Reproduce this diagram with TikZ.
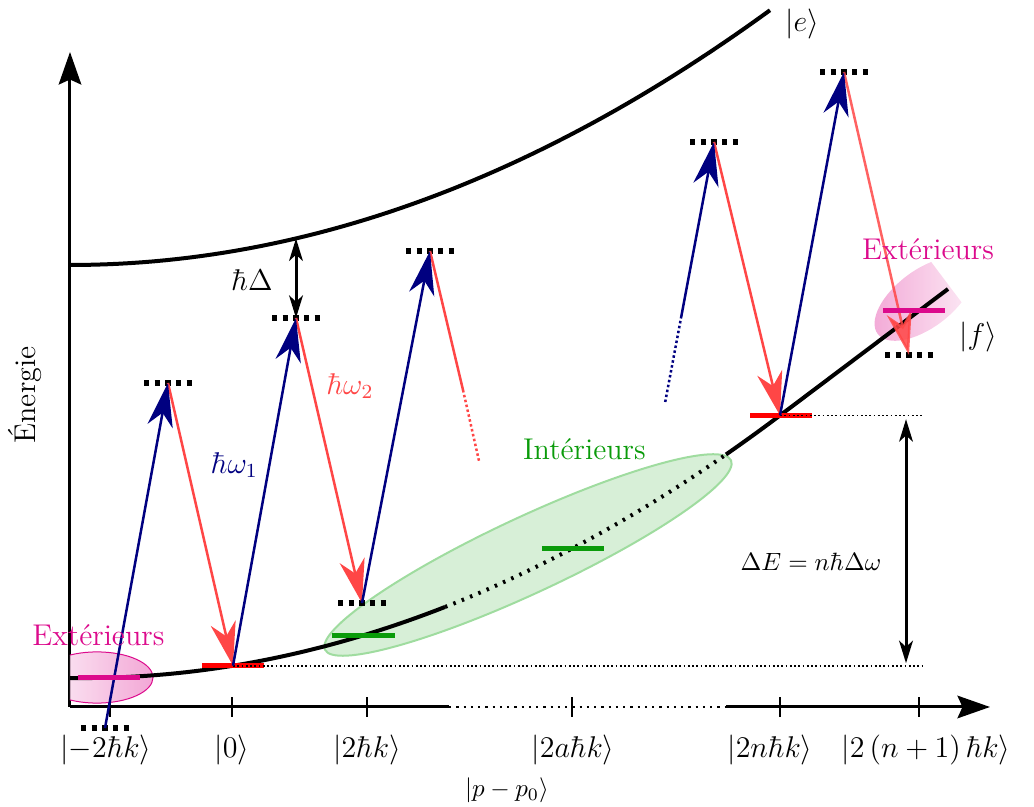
\documentclass[tikz,border=0pt]{standalone}
\usepackage{tikz}
\usetikzlibrary{arrows.meta,calc}

\begin{document}
\begin{tikzpicture}[x=16pt, y=16pt,
  declare function={bas(\x)=0.725-0.0126*\x+0.02154*\x*\x; haut(\x)=11.05+0.0208*\x*\x;},
  courbe/.style={line width=1.6pt},
  axe/.style={line width=1.2pt},
  niveau/.style={line width=2.1pt, dash pattern=on 2.13pt off 2.13pt},
  barre/.style={line width=2pt},
  fleche/.style={line width=1pt, -{Stealth[length=17.5pt, width=10.2pt, inset=5.4pt]}},
  repere/.style={line width=0.7pt, densely dotted},
  ecart/.style={line width=1.2pt, {Stealth[length=9pt, width=5.5pt, inset=2.5pt]}-{Stealth[length=9pt, width=5.5pt, inset=2.5pt]}}
]

% Couleurs
\definecolor{colBleu}{HTML}{000080}
\definecolor{colRouge}{HTML}{FF4646}
\definecolor{colExt}{HTML}{DC0A8C}
\definecolor{colInt}{HTML}{0A9B0A}
\definecolor{colIntFond}{HTML}{D7EFD7}
\definecolor{colIntBord}{HTML}{9FDC9F}

\useasboundingbox (-1.75,-2.5) rectangle (24.1,17.675);

% Etats interieurs
\draw[colIntBord, fill=colIntFond, line width=0.8pt, shift={(11.45,3.8)}, rotate=25] (0,0) ellipse (5.6 and 0.95);

% Axes
\coordinate (O) at (0,0);
\coordinate (xa) at (9.475,0);
\coordinate (xb) at (16.4,0);
\coordinate (xfin) at (23,0);
\coordinate (yfin) at (0,16.375);
\draw[axe] (O) -- (xa);
\draw[line width=0.9pt, dotted] (xa) -- (xb);
\draw[axe, -{Stealth[length=13pt, width=9pt, inset=2pt]}] (xb) -- (xfin);
\draw[axe, -{Stealth[length=13pt, width=9pt, inset=2pt]}] (O) -- (yfin);
\foreach \t in {1.0,4.05,7.425,12.55,17.75,21.225}
  \draw[line width=0.9pt] (\t,-0.25) -- (\t,0.25);

\node[font=\large] (km2) at (0.9,-1.075) {$|{-2\hbar k}\rangle$};
\node[font=\large] (k0) at (4.05,-1.075) {$|0\rangle$};
\node[font=\large] (k2) at (7.425,-1.075) {$|2\hbar k\rangle$};
\node[font=\large] (k2a) at (12.575,-1.075) {$|2a\hbar k\rangle$};
\node[font=\large] (k2n) at (17.5,-1.075) {$|2n\hbar k\rangle$};
\node[font=\large] (k2n1) at (21.4,-1.075) {$|2\left(n+1\right)\hbar k\rangle$};
\node (kp) at (10.925,-2.075) {$|p-p_0\rangle$};
\node[font=\large, rotate=90] (energie) at (-1.125,7.8) {Énergie};

% Etats exterieurs (fond)
\begin{scope}
  \clip (0,-1) rectangle (3,3);
  \shade[left color=colExt!8, right color=colExt!45, opacity=0.8] (0.675,0.7375) ellipse (1.4 and 0.64);
  \draw[colExt, line width=0.4pt] (0.675,0.7375) ellipse (1.4 and 0.64);
\end{scope}
\begin{scope}[shift={(21.35,10.2)}, rotate=37]
  \clip (-2,-1) rectangle (0.7,1);
  \shade[left color=colExt!45, right color=colExt!8, opacity=0.8] (0,0) ellipse (1.45 and 0.72);
\end{scope}

% Courbes |e> et |f>
\draw[courbe] plot[domain=0:17.5, samples=60] (\x,{haut(\x)});
\draw[courbe] plot[domain=0:9.375, samples=40] (\x,{bas(\x)});
\draw[courbe, dash pattern=on 1pt off 2.6pt] plot[domain=9.375:16.4, samples=40] (\x,{bas(\x)});
\draw[courbe] plot[domain=16.4:17.75, samples=10] (\x,{bas(\x)}) -- (21.95,10.45);
\node[font=\large] (ketE) at (18.3,17.075) {$|e\rangle$};
\node[font=\large] (ketF) at (22.7,9.25) {$|f\rangle$};

% Points des transitions
\coordinate (d0) at (0.875,-0.525);
\coordinate (h1) at (2.45,8.1);
\coordinate (b1) at (4.075,{bas(4.075)});
\coordinate (h2) at (5.65,9.725);
\coordinate (b2) at (7.3,2.6);
\coordinate (h3) at (9.0,11.4);
\coordinate (r3) at (9.825,7.925);
\coordinate (r3b) at (10.225,6.15);
\coordinate (u4) at (14.88,7.625);
\coordinate (u4b) at (15.275,9.725);
\coordinate (h4) at (16.1,14.125);
\coordinate (b3) at (17.75,{bas(17.75)});
\coordinate (h5) at (19.35,15.875);
\coordinate (b4) at (20.975,8.8);
\coordinate (e2) at (5.65,{haut(5.65)});
\coordinate (cote) at (21.3,0);
\coordinate (fl) at (20.9,0);

% Niveaux virtuels
\foreach \n in {d0,h1,h2,h3,b2,h4,h5,b4}
  \draw[niveau] ($(\n)+(-0.6,0)$) -- ($(\n)+(0.6,0)$);

% Barres
\draw[barre, red] ($(b1)+(-0.78,0)$) -- ($(b1)+(0.78,0)$);
\draw[barre, red] ($(b3)+(-0.75,0)$) -- ($(b3)+(0.8,0)$);
\coordinate (i1) at (7.34,{bas(7.34)});
\coordinate (i2) at (12.575,{bas(12.575)});
\draw[barre, colInt] ($(i1)+(-0.78,0)$) -- ($(i1)+(0.78,0)$);
\draw[barre, colInt] ($(i2)+(-0.78,0)$) -- ($(i2)+(0.78,0)$);

% Reperes et ecarts
\draw[repere] (b1) -- (b1 -| cote);
\draw[repere] (b3) -- (b3 -| cote);
\draw[ecart, shorten <=1pt, shorten >=1.5pt] (b1 -| fl) -- (b3 -| fl);
\node (dE) at (18.525,3.625) {$\Delta E=n\hbar\Delta\omega$};
\draw[ecart] (e2) -- (h2);
\node[font=\large] (hD) at (4.55,10.675) {$\hbar\Delta$};

% Transitions
\draw[fleche, colRouge] (h1) -- (b1);
\draw[fleche, colRouge] (h2) -- (b2);
\draw[line width=1pt, colRouge] (h3) -- (r3);
\draw[line width=1pt, colRouge, densely dotted] (r3) -- (r3b);
\draw[fleche, colRouge] (h4) -- (b3);
\draw[fleche, colRouge, opacity=0.85] (h5) -- (b4);
\draw[fleche, colBleu] (d0) -- (h1);
\draw[fleche, colBleu] (b1) -- (h2);
\draw[fleche, colBleu] (b2) -- (h3);
\draw[line width=1pt, colBleu, densely dotted] (u4) -- (u4b);
\draw[fleche, colBleu] (u4b) -- (h4);
\draw[fleche, colBleu] (b3) -- (h5);
\node[font=\large, text=colBleu] (hw1) at (4.11,6.05) {$\hbar\omega_1$};
\node[font=\large, text=colRouge] (hw2) at (7.0,8.025) {$\hbar\omega_2$};

% Etats exterieurs
\coordinate (x1) at (0.975,{bas(0.975)});
\coordinate (x2) at (21.1,9.9);
\draw[barre, colExt] ($(x1)+(-0.78,0)$) -- ($(x1)+(0.78,0)$);
\draw[barre, colExt] ($(x2)+(-0.78,0)$) -- ($(x2)+(0.78,0)$);
\node[font=\large, text=colExt] (extG) at (0.71,1.8) {Extérieurs};
\node[font=\large, text=colExt] (extD) at (21.45,11.45) {Extérieurs};
\node[font=\large, text=colInt] (intL) at (12.86,6.45) {Intérieurs};
\end{tikzpicture}
\end{document}
